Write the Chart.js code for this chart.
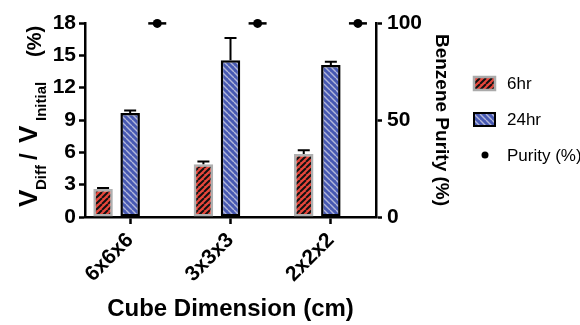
<!DOCTYPE html>
<html>
<head>
<meta charset="utf-8">
<script src="https://cdn.jsdelivr.net/npm/chart.js@4/dist/chart.umd.min.js"></script>
<style>
  html, body { margin: 0; padding: 0; background: #fff; }
  #wrap { width: 580px; height: 325px; }
</style>
</head>
<body>
<div id="wrap"><canvas id="chart" width="580" height="325"></canvas></div>
<script>
// Chart data
const categories = ['6x6x6', '3x3x3', '2x2x2'];
const sixHr = [2.6, 4.9, 5.85];
const sixHrErr = [0.08, 0.25, 0.35];
const twentyFourHr = [9.65, 14.55, 14.1];
const twentyFourHrErr = [0.22, 2.05, 0.3];
const purity = [99.8, 99.8, 99.8];
const leftTicks = [0, 3, 6, 9, 12, 15, 18];
const rightTicks = [0, 50, 100];

const FONT = "'Liberation Sans', Arial, Helvetica, sans-serif";
Chart.defaults.font.family = FONT;
Chart.defaults.color = '#000';

// Build hatched fills for the bars
function makeHatch(bg, stripe, lw, forward) {
    const s = 6;
    const c = document.createElement('canvas');
    c.width = s; c.height = s;
    const g = c.getContext('2d');
    g.fillStyle = bg;
    g.fillRect(0, 0, s, s);
    g.strokeStyle = stripe;
    g.lineWidth = lw;
    g.beginPath();
    for (let k = -1; k <= 1; k++) {
        if (forward) { g.moveTo(k * s, s); g.lineTo(k * s + s, 0); }
        else { g.moveTo(k * s, 0); g.lineTo(k * s + s, s); }
    }
    g.stroke();
    return g.createPattern(c, 'repeat');
}
const redHatch = makeHatch('#e8473c', '#111', 2, true);
const blueHatch = makeHatch('#4759b2', '#b3b8da', 1.4, false);

const toPoints = arr => arr.map((v, i) => ({ x: i, y: v }));

// Error bars (upward only) and purity markers
const markersPlugin = {
    id: 'markers',
    afterDatasetsDraw(chart) {
        const ctx = chart.ctx;
        const y = chart.scales.y;
        const y2 = chart.scales.y2;
        const errs = [sixHrErr, twentyFourHrErr];
        const vals = [sixHr, twentyFourHr];
        ctx.save();
        ctx.strokeStyle = '#000';
        ctx.lineWidth = 2;
        for (let d = 0; d < 2; d++) {
            chart.getDatasetMeta(d).data.forEach((el, i) => {
                const top = y.getPixelForValue(vals[d][i] + errs[d][i]);
                ctx.beginPath();
                ctx.moveTo(el.x, el.y);
                ctx.lineTo(el.x, top);
                ctx.moveTo(el.x - 6, top);
                ctx.lineTo(el.x + 6, top);
                ctx.stroke();
            });
        }
        ctx.lineWidth = 2.5;
        ctx.fillStyle = '#000';
        chart.getDatasetMeta(2).data.forEach((el, i) => {
            const py = y2.getPixelForValue(purity[i]);
            ctx.beginPath();
            ctx.moveTo(el.x - 9, py);
            ctx.lineTo(el.x + 9, py);
            ctx.stroke();
            ctx.beginPath();
            ctx.arc(el.x, py, 4.5, 0, Math.PI * 2);
            ctx.fill();
        });
        ctx.restore();
    }
};

// Left axis title with subscripts
const yTitlePlugin = {
    id: 'yTitle',
    afterDraw(chart) {
        const ctx = chart.ctx;
        ctx.save();
        ctx.translate(0, 207);
        ctx.rotate(-Math.PI / 2);
        ctx.fillStyle = '#000';
        ctx.textBaseline = 'alphabetic';
        ctx.textAlign = 'left';
        const parts = [
            { t: 'V', size: 26, at: 0, base: 37 },
            { t: 'Diff', size: 15, at: 17, base: 46 },
            { t: '/', size: 24, at: 47, base: 37 },
            { t: 'V', size: 26, at: 64, base: 37 },
            { t: 'Initial', size: 15, at: 86, base: 46 },
            { t: '(%)', size: 20, at: 150, base: 41 }
        ];
        parts.forEach(p => {
            ctx.font = 'bold ' + p.size + 'px ' + FONT;
            ctx.fillText(p.t, p.at, p.base);
        });
        ctx.restore();
    }
};

// Legend on the right
const legendPlugin = {
    id: 'sideLegend',
    afterDraw(chart) {
        const ctx = chart.ctx;
        ctx.save();
        ctx.font = '17px ' + FONT;
        ctx.textBaseline = 'middle';
        // 6hr
        ctx.fillStyle = redHatch;
        ctx.fillRect(474, 77, 21, 13);
        ctx.strokeStyle = '#aaa';
        ctx.lineWidth = 2.5;
        ctx.strokeRect(474, 77, 21, 13);
        // 24hr
        ctx.fillStyle = blueHatch;
        ctx.fillRect(474, 113, 21, 13);
        ctx.strokeStyle = '#000';
        ctx.lineWidth = 2;
        ctx.strokeRect(474, 113, 21, 13);
        // Purity
        ctx.fillStyle = '#000';
        ctx.beginPath();
        ctx.arc(485, 155, 3.5, 0, Math.PI * 2);
        ctx.fill();
        ctx.fillText('6hr', 507, 84);
        ctx.fillText('24hr', 507, 120);
        ctx.fillText('Purity (%)', 507, 156);
        ctx.restore();
    }
};

const axisGrid = { display: true, drawOnChartArea: false, drawTicks: true, tickLength: 6, tickColor: '#000', tickWidth: 2.5 };
const axisBorder = { display: true, color: '#000', width: 2.5 };

new Chart(document.getElementById('chart'), {
    type: 'bar',
    data: {
        datasets: [
            {
                label: '6hr', data: toPoints(sixHr), yAxisID: 'y',
                backgroundColor: redHatch, borderColor: '#b0b0b0', borderWidth: 2.5, borderSkipped: false
            },
            {
                label: '24hr', data: toPoints(twentyFourHr), yAxisID: 'y',
                backgroundColor: blueHatch, borderColor: '#000', borderWidth: 2.5, borderSkipped: false
            },
            {
                label: 'Purity (%)', data: toPoints(purity), yAxisID: 'y2',
                backgroundColor: 'rgba(0,0,0,0)', borderWidth: 0
            }
        ]
    },
    options: {
        responsive: false,
        animation: false,
        categoryPercentage: 0.81,
        barPercentage: 0.72,
        layout: { padding: { top: 23, right: 127, bottom: 0, left: 0 } },
        plugins: { legend: { display: false }, tooltip: { enabled: false } },
        scales: {
            x: {
                type: 'linear',
                offset: false,
                min: -0.45,
                max: 2.45,
                afterBuildTicks: s => { s.ticks = categories.map((c, i) => ({ value: i })); },
                afterFit: s => { s.height = 108; },
                grid: Object.assign({}, axisGrid, { tickLength: 7, offset: false }),
                border: axisBorder,
                ticks: {
                    callback: v => categories[v],
                    minRotation: 45, maxRotation: 45,
                    padding: 4,
                    font: { size: 21, weight: 'bold' }
                },
                title: {
                    display: true, text: 'Cube Dimension (cm)',
                    font: { size: 24, weight: 'bold' }, padding: { top: 0, bottom: 1 }
                }
            },
            y: {
                position: 'left',
                min: 0, max: 18,
                afterBuildTicks: s => { s.ticks = leftTicks.map(v => ({ value: v })); },
                afterFit: s => { s.width = 85; },
                grid: axisGrid,
                border: axisBorder,
                ticks: { padding: 3, font: { size: 21, weight: 'bold' } }
            },
            y2: {
                position: 'right',
                min: 0, max: 100,
                afterBuildTicks: s => { s.ticks = rightTicks.map(v => ({ value: v })); },
                afterFit: s => { s.width = 77; },
                grid: axisGrid,
                border: axisBorder,
                ticks: { padding: 5, font: { size: 21, weight: 'bold' } },
                title: {
                    display: true, text: 'Benzene Purity (%)',
                    font: { size: 19, weight: 'bold' }, padding: 0
                }
            }
        }
    },
    plugins: [markersPlugin, yTitlePlugin, legendPlugin]
});
</script>
</body>
</html>
